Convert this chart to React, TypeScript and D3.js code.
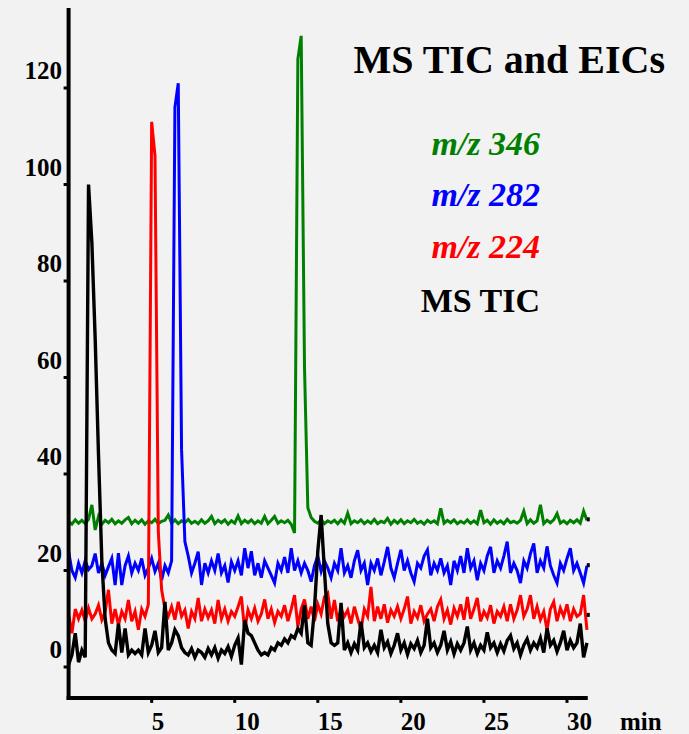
import React from 'react';
import * as d3 from 'd3';

// sampling interval of the traces, minutes
const sampleStep = 0.2;

const xTicks = [5, 10, 15, 20, 25, 30];
const yTicks = [0, 20, 40, 60, 80, 100, 120];

// MS TIC (black)
const ticValues = [
  0.5, 2.5, 7, 1, 3.5, 2, 100, 88, 68, 44,
  22, 10, 5, 3.5, 2.8, 9, 3, 8, 2.5, 3.5,
  2.8, 3.5, 2.5, 8, 3, 4.5, 7.5, 3, 4, 13.5,
  3.5, 5, 7.7, 6.5, 4, 3, 2.5, 3.8, 2, 3.5,
  3, 2, 3.8, 2.5, 4, 1.8, 3.5, 2.8, 4.2, 2.2,
  4.5, 6, 0.5, 9.7, 7, 6.5, 5, 3.5, 2.5, 3,
  2.5, 4, 3.5, 5, 4.5, 5.8, 5, 6.5, 6, 8,
  7, 12.8, 5, 4.5, 12, 24, 31.5, 20, 9, 5,
  4.5, 5, 13.3, 3.5, 5, 3, 4.8, 3.5, 9.4, 4,
  5, 3.2, 4.5, 3, 7.7, 4, 5.2, 2.8, 4.5, 7,
  3.5, 5, 2.6, 4.8, 3.8, 5.5, 3, 4.5, 10, 4,
  5, 3, 4.5, 7.5, 3.5, 5.2, 2.7, 4.8, 3.5, 5,
  8.4, 3.5, 5, 2.8, 4.5, 3.5, 7.2, 4, 5, 3,
  4.8, 3.3, 5.5, 6.5, 3.8, 5, 2.5, 4.5, 5.8, 3.5,
  5, 4, 6, 3, 8, 4.5, 5.5, 3.2, 5, 7.5,
  3.5, 5.5, 4, 5, 9, 2, 5,
];

// m/z 224 (red)
const mz224Values = [
  11, 7, 12, 10, 11.8, 9.5, 12.2, 10, 11, 12.8,
  9.8, 11.5, 16, 9, 12, 8.7, 11.5, 10, 13.9, 9.5,
  11.5, 7.7, 12, 10.5, 13, 113, 106, 28, 16, 12,
  10.5, 12.5, 9.8, 13.5, 10.5, 11.8, 8, 11.5, 10, 14.3,
  9.5, 12, 10.2, 11.8, 9, 13.9, 10, 12, 9.5, 11.5,
  10.5, 12.5, 14.6, 7.6, 11.8, 10, 12.2, 9.5, 11, 14,
  10, 12, 9.2, 11.5, 10.5, 12.8, 9.5, 12, 14.9, 8.4,
  12, 14, 10, 12.5, 9.5, 13, 11, 14.5, 15.3, 10,
  13.9, 9.5, 12, 10.5, 11.8, 9, 12.5, 10, 7.7, 12,
  10.5, 16.6, 9.5, 12.5, 10, 13, 9.2, 11.8, 10.5, 12.5,
  10, 12, 14.6, 9, 11.5, 10.2, 12.8, 9.5, 11, 12,
  9.5, 12.5, 14, 10, 11.8, 8.8, 12.2, 10.5, 13, 9.8,
  14.5, 10, 12, 14.3, 9.5, 11.5, 10.2, 12.8, 9, 11.5,
  10.5, 12.5, 9.5, 13, 10, 11.8, 14.9, 10.5, 12, 14.9,
  10, 12.5, 9.8, 11.5, 7.7, 12, 13.5, 9.5, 12.2, 10.5,
  13, 9.5, 12, 10.5, 11, 14.9, 7.7,
];

// m/z 282 (blue)
const mz282Values = [
  23.9, 20, 18.5, 21.5, 19.5, 22, 20.2, 21, 23.5, 19.5,
  21.5, 19, 20.8, 22.5, 17, 23.6, 17, 21, 23, 19.5,
  21.5, 20, 22.5, 19, 20.5, 22.5, 19.8, 21.5, 18, 21,
  19.5, 22, 116, 121, 45, 26, 23, 19.5, 21.5, 23.9,
  17, 21.5, 19.5, 22, 20, 23.5, 19.5, 21, 17.5, 21.8,
  20, 22, 19, 24.6, 20.5, 24, 19, 21.5, 18.5, 22,
  20.5, 19, 17.4, 21.5, 20, 22.8, 19.5, 24.6, 20, 22,
  19.5, 21.5, 20, 17.7, 21, 23, 19.8, 22, 20.5, 18.5,
  21.5, 20, 24.6, 19.5, 21, 18.5, 22, 24.2, 20, 21.5,
  17, 21.5, 20, 22.5, 19, 21.8, 24.9, 20.5, 18.5, 21.5,
  24.3, 20, 22, 19.5, 17.7, 21.5, 20.5, 23, 24.3, 19,
  21.5, 20, 22.5, 19.5, 21, 17, 22, 20, 23, 19.5,
  24.6, 20.5, 22, 18, 21.5, 20, 23, 24.9, 19.5, 22,
  20.5, 23, 26, 19.5, 21.5, 20, 17.4, 22, 20.5, 23.5,
  25.6, 19.5, 22, 20.5, 25, 21, 19, 17.4, 21.5, 20,
  22.5, 24.6, 20, 21.5, 19.5, 17.4, 21,
];

// m/z 346 (green)
const mz346Values = [
  30.2, 29.6, 30.5, 29.8, 30.4, 29.7, 30.6, 33.6, 28.4, 31.2,
  29.6, 30.4, 29.9, 30.6, 29.7, 30.3, 29.8, 30.5, 31, 29.7,
  30.4, 29.8, 30.5, 29.6, 30.3, 29.9, 30.6, 29.7, 30.2, 30.4,
  31.5, 29.8, 30.5, 29.7, 30.3, 29.9, 30.6, 29.8, 30.2, 29.7,
  30.5, 29.8, 30.3, 31.2, 29.7, 30.4, 29.9, 30.5, 29.6, 30.3,
  29.8, 31.3, 29.7, 30.4, 29.9, 30.5, 29.7, 30.3, 29.8, 31.2,
  29.7, 30.4, 31.2, 29.8, 30.3, 29.9, 30.4, 29.6, 27.8, 126,
  130.8, 62, 33, 31, 30.2, 29.8, 30.5, 29.7, 30.3, 29.9,
  30.4, 29.7, 30.5, 29.8, 31.9, 29.7, 30.3, 29.9, 30.5, 29.7,
  30.3, 29.8, 30.6, 29.7, 30.2, 29.9, 30.8, 29.6, 30.4, 29.8,
  30.5, 29.7, 30.3, 29.9, 30.6, 29.8, 30.2, 29.6, 30.4, 29.9,
  30.3, 29.7, 32.9, 29.8, 30.4, 29.9, 30.5, 29.7, 30.2, 29.8,
  30.5, 29.8, 30.3, 29.7, 32.5, 29.9, 30.4, 29.6, 30.5, 29.8,
  30.3, 29.7, 30.6, 29.9, 30.2, 29.8, 30.4, 32.3, 29.7, 30.5,
  29.8, 30.3, 33.6, 29.7, 30.4, 29.9, 30.5, 31.8, 29.8, 30.3,
  29.7, 30.4, 29.9, 30.5, 29.8, 32.3, 30.4,
];

// drawn back to front
const series = [
  { name: 'm/z 346', values: mz346Values, color: '#008000', width: 3 },
  { name: 'm/z 282', values: mz282Values, color: '#0000ff', width: 3 },
  { name: 'm/z 224', values: mz224Values, color: '#ff0000', width: 3 },
  { name: 'MS TIC', values: ticValues, color: '#000000', width: 3.4 },
];

// little black marks at the right end of the EIC traces
const endMarks = [30.6, 21.1, 10.8];

const legendItems = [
  { label: 'm/z 346', color: '#008000', italic: true },
  { label: 'm/z 282', color: '#0000ff', italic: true },
  { label: 'm/z 224', color: '#ff0000', italic: true },
  { label: 'MS TIC', color: '#000000', italic: false },
];

const font = '"Liberation Serif", "Times New Roman", serif';

export default function App() {
  const width = 689;
  const height = 734;

  const x = d3.scaleLinear().domain([0, 30]).range([68.6, 567]);
  const y = d3.scaleLinear().domain([0, 120]).range([667, 88]);

  const axisX = x(0);
  const axisY = y(-6.4);
  const axisTop = y(136.6);
  const axisRight = x(31.25);

  const line = d3
    .line<number>()
    .x((_, i) => x(i * sampleStep))
    .y((d) => y(d));

  return (
    <div style={{ position: 'fixed', inset: 0, background: '#f2f2f2' }}>
      <svg width={width} height={height} style={{ display: 'block' }}>
        <rect width={width} height={height} fill="#f2f2f2" />

        {series.map((s) => (
          <path
            key={s.name}
            d={line(s.values) || ''}
            fill="none"
            stroke={s.color}
            strokeWidth={s.width}
            strokeLinejoin="miter"
          />
        ))}

        {endMarks.map((v, i) => (
          <rect key={i} x={axisRight - 1} y={y(v) - 2} width={3} height={4} fill="#000" />
        ))}

        {/* y axis */}
        <line x1={axisX} x2={axisX} y1={axisTop} y2={axisY + 2} stroke="#000" strokeWidth={4} />
        {yTicks.map((t) => (
          <g key={t}>
            <line x1={axisX - 5} x2={axisX} y1={y(t)} y2={y(t)} stroke="#000" strokeWidth={3} />
            <text
              x={62}
              y={y(t) - 9}
              textAnchor="end"
              fontFamily={font}
              fontWeight="bold"
              fontSize={25}
            >
              {t}
            </text>
          </g>
        ))}

        {/* x axis */}
        <line x1={axisX - 2} x2={axisRight} y1={axisY} y2={axisY} stroke="#000" strokeWidth={4} />
        {xTicks.map((t) => (
          <g key={t}>
            <line x1={x(t)} x2={x(t)} y1={axisY} y2={axisY + 5} stroke="#000" strokeWidth={3} />
            <text x={x(t)} y={730} fontFamily={font} fontWeight="bold" fontSize={25}>
              {t}
            </text>
          </g>
        ))}
        <text x={620} y={730} fontFamily={font} fontWeight="bold" fontSize={25}>
          min
        </text>

        {/* title and legend */}
        <text x={665} y={73} textAnchor="end" fontFamily={font} fontWeight="bold" fontSize={40}>
          MS TIC and EICs
        </text>
        {legendItems.map((item, i) => (
          <text
            key={item.label}
            x={540}
            y={[155, 206, 258, 312][i]}
            textAnchor="end"
            fontFamily={font}
            fontWeight="bold"
            fontStyle={item.italic ? 'italic' : 'normal'}
            fontSize={34}
            fill={item.color}
          >
            {item.label}
          </text>
        ))}
      </svg>
    </div>
  );
}
